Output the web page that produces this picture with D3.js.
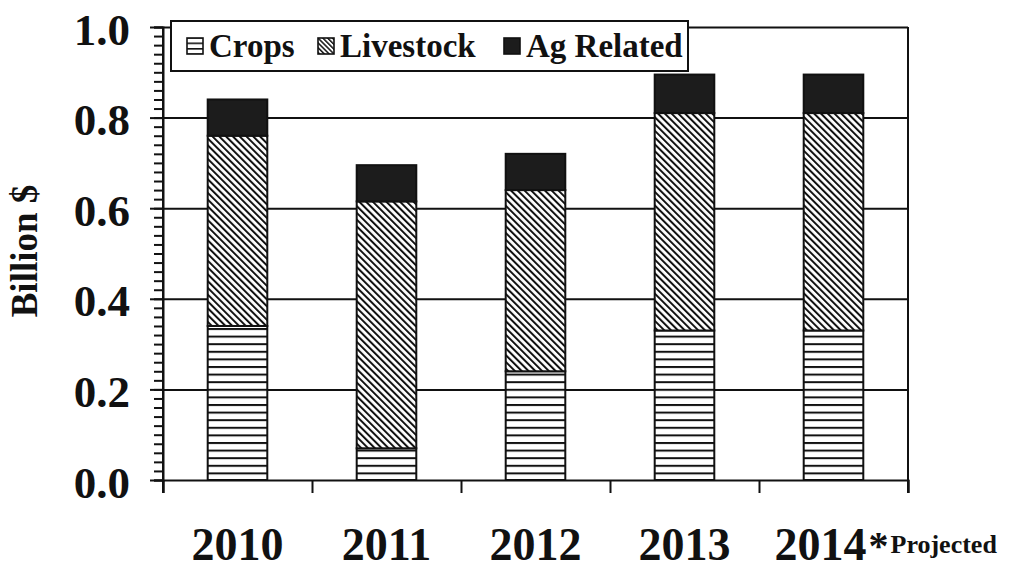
<!DOCTYPE html>
<html>
<head>
<meta charset="utf-8">
<script src="https://cdn.jsdelivr.net/npm/d3@7"></script>
<style>
  body { margin: 0; background: #fff; }
  text { font-family: "Liberation Serif", "Times New Roman", serif; font-weight: bold; fill: #111; }
</style>
</head>
<body>
<svg id="chart" width="1014" height="570"></svg>
<script>
// values, billion $
var years = ["2010", "2011", "2012", "2013", "2014"];
var crops = [0.34, 0.07, 0.24, 0.33, 0.33];
var livestock = [0.42, 0.545, 0.40, 0.48, 0.48];
var agRelated = [0.08, 0.08, 0.08, 0.085, 0.085];
var seriesNames = ["Crops", "Livestock", "Ag Related"];
var yTicks = [0, 0.2, 0.4, 0.6, 0.8, 1.0];

var rows = years.map(function(y, i) {
  return { year: y, "Crops": crops[i], "Livestock": livestock[i], "Ag Related": agRelated[i] };
});

var svg = d3.select("#chart");
// plot box (note: "top" is taken by window.top, so use other names)
var pL = 163, pR = 908, pT = 27, pB = 480;

var x = d3.scaleBand().domain(years).range([pL, pR])
  .paddingInner(0.6).paddingOuter(0.3);
var y = d3.scaleLinear().domain([0, 1]).range([pB, pT]);

// hatch patterns
var defs = svg.append("defs");
var hp = defs.append("pattern").attr("id", "hatchCrops")
  .attr("patternUnits", "userSpaceOnUse").attr("width", 10).attr("height", 7.6)
  .attr("y", pB);
hp.append("rect").attr("width", 10).attr("height", 7.6).attr("fill", "#fff");
hp.append("rect").attr("y", 0).attr("width", 10).attr("height", 2).attr("fill", "#111");

var dp = defs.append("pattern").attr("id", "hatchLive")
  .attr("patternUnits", "userSpaceOnUse").attr("width", 4.8).attr("height", 10)
  .attr("patternTransform", "rotate(-45)");
dp.append("rect").attr("width", 4.8).attr("height", 10).attr("fill", "#fff");
dp.append("rect").attr("width", 2).attr("height", 10).attr("fill", "#111");

var fills = { "Crops": "url(#hatchCrops)", "Livestock": "url(#hatchLive)", "Ag Related": "#1c1c1c" };

// gridlines
svg.append("g")
  .attr("transform", "translate(" + pL + ",0)")
  .call(d3.axisLeft(y).tickValues(yTicks.slice(1)).tickSize(-(pR - pL)).tickFormat(""))
  .call(function(g) { g.select(".domain").remove(); })
  .selectAll("line").attr("stroke", "#111").attr("stroke-width", 2);

// right border
svg.append("line").attr("x1", pR).attr("x2", pR)
  .attr("y1", y(1)).attr("y2", pB + 13)
  .attr("stroke", "#111").attr("stroke-width", 2);

// stacked bars
var stack = d3.stack().keys(seriesNames)(rows);
svg.append("g").selectAll("g").data(stack).enter().append("g")
  .attr("fill", function(d) { return fills[d.key]; })
  .selectAll("rect").data(function(d) { return d; }).enter().append("rect")
  .attr("x", function(d) { return x(d.data.year); })
  .attr("width", x.bandwidth())
  .attr("y", function(d) { return y(d[1]); })
  .attr("height", function(d) { return y(d[0]) - y(d[1]); })
  .attr("stroke", "#111").attr("stroke-width", 2);

// minor ticks on y axis
var minor = d3.range(0, 51).map(function(i) { return i * 0.02; });
svg.append("g")
  .attr("transform", "translate(" + pL + ",0)")
  .call(d3.axisLeft(y).tickValues(minor).tickSize(9).tickFormat(""))
  .selectAll("line, path").attr("stroke", "#111").attr("stroke-width", 2);

// major ticks and labels
var yAxis = svg.append("g")
  .attr("transform", "translate(" + pL + ",0)")
  .call(d3.axisLeft(y).tickValues(yTicks).tickSize(13).tickPadding(20).tickFormat(d3.format(".1f")));
yAxis.select(".domain").attr("stroke", "#111").attr("stroke-width", 2)
  .attr("d", "M0," + y(1) + "V" + (pB + 13));
yAxis.selectAll("line").attr("stroke", "#111").attr("stroke-width", 2);
yAxis.selectAll("text").attr("font-size", 45).attr("dy", "0.38em")
  .attr("font-family", "Liberation Serif, serif").attr("font-weight", "bold").attr("fill", "#111");

// x axis with ticks at category boundaries
var xb = d3.scaleLinear().domain([0, years.length]).range([pL, pR]);
var xAxis = svg.append("g")
  .attr("transform", "translate(0," + pB + ")")
  .call(d3.axisBottom(xb).tickValues(d3.range(0, years.length + 1)).tickSize(13).tickFormat(""));
xAxis.selectAll("line, path").attr("stroke", "#111").attr("stroke-width", 2);

// category labels
svg.append("g").selectAll("text").data(years.slice(0, 4)).enter().append("text")
  .attr("x", function(d) { return x(d) + x.bandwidth() / 2; })
  .attr("y", 560).attr("text-anchor", "middle").attr("font-size", 46)
  .text(function(d) { return d; });

var last = svg.append("text")
  .attr("x", x("2014") + x.bandwidth() / 2 - 59).attr("y", 560).attr("font-size", 46);
last.append("tspan").text("2014");
last.append("tspan").attr("font-size", 40).attr("dx", 2).attr("dy", -1).text("*");
last.append("tspan").attr("font-size", 26).attr("dy", -6).attr("dx", 2).text("Projected");

// y axis title
svg.append("text")
  .attr("transform", "translate(37,251) rotate(-90)")
  .attr("text-anchor", "middle").attr("font-size", 37)
  .text("Billion $");

// legend
var legend = svg.append("g");
legend.append("rect").attr("x", 171).attr("y", 21).attr("width", 517).attr("height", 50)
  .attr("fill", "#fff").attr("stroke", "#111").attr("stroke-width", 2);

var lp = defs.append("pattern").attr("id", "legCrops")
  .attr("patternUnits", "userSpaceOnUse").attr("width", 6).attr("height", 5.5).attr("y", 37);
lp.append("rect").attr("width", 6).attr("height", 5.5).attr("fill", "#fff");
lp.append("rect").attr("width", 6).attr("height", 1.6).attr("fill", "#111");
var ld = defs.append("pattern").attr("id", "legLive")
  .attr("patternUnits", "userSpaceOnUse").attr("width", 3.4).attr("height", 8)
  .attr("patternTransform", "rotate(-45)");
ld.append("rect").attr("width", 3.4).attr("height", 8).attr("fill", "#fff");
ld.append("rect").attr("width", 1.5).attr("height", 8).attr("fill", "#111");

var legItems = [
  { name: "Crops", fill: "url(#legCrops)", x: 187 },
  { name: "Livestock", fill: "url(#legLive)", x: 318 },
  { name: "Ag Related", fill: "#1c1c1c", x: 504 }
];
var li = legend.selectAll("g.item").data(legItems).enter().append("g");
li.append("rect").attr("x", function(d) { return d.x; }).attr("y", 38)
  .attr("width", 16).attr("height", 16)
  .attr("fill", function(d) { return d.fill; })
  .attr("stroke", "#111").attr("stroke-width", 1.6);
li.append("text").attr("x", function(d) { return d.x + 22; }).attr("y", 57)
  .attr("font-size", 33).text(function(d) { return d.name; });
</script>
</body>
</html>
